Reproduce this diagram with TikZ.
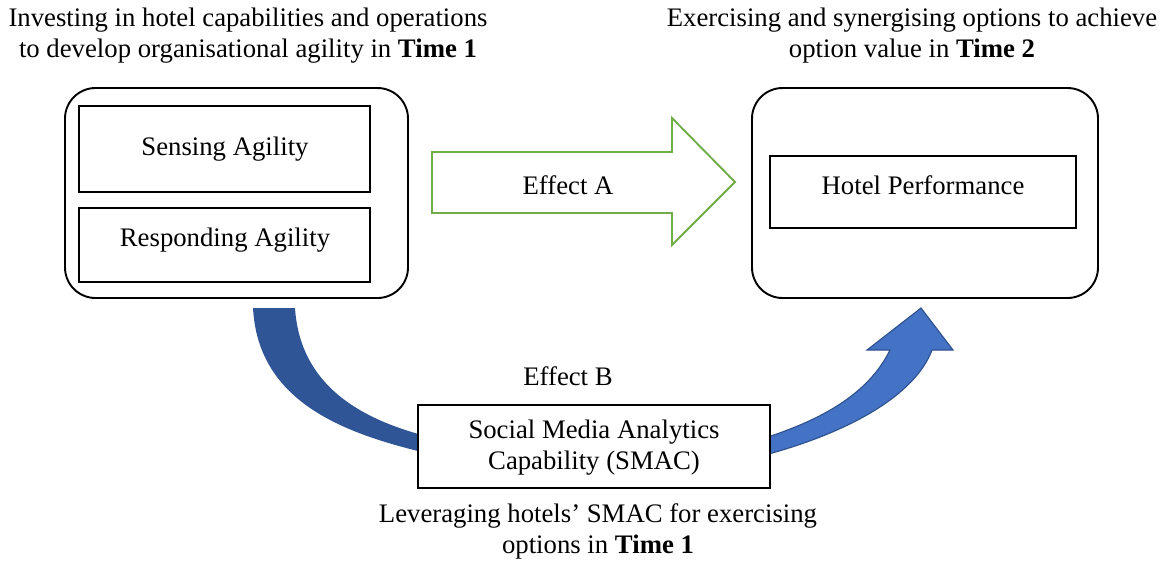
\documentclass[tikz,border=0pt]{standalone}
\usepackage{fontspec}
\setmainfont{Liberation Serif}
\begin{document}
\begin{tikzpicture}[x=0.0184cm,y=-0.0184cm,line join=miter,
  font=\fontsize{14}{16.2}\selectfont,
  outer/.style={draw,line width=1pt,rounded corners=16pt},
  inbox/.style={draw,line width=0.8pt,fill=white},
  caption/.style={align=center,inner sep=0pt}]
\definecolor{effgreen}{HTML}{70AD47}
\definecolor{darkarc}{HTML}{2F5597}
\definecolor{lightarc}{HTML}{4472C4}
\definecolor{arcline}{HTML}{2F528F}
\useasboundingbox (0,0) rectangle (1163,561);
% captions
\node[caption] (capL) at (248,36) {Investing in hotel capabilities and operations\\to develop organisational agility in \textbf{Time 1}};
\node[caption] (capR) at (912,36) {Exercising and synergising options to achieve\\option value in \textbf{Time 2}};
\node[caption] (capB) at (598,531) {Leveraging hotels’ SMAC for exercising\\options in \textbf{Time 1}};
% left group
\draw[outer] (65,88) rectangle (408,298);
\draw[inbox] (79,106) rectangle (370,192);
\node (sense) at (225,149) {Sensing Agility};
\draw[inbox] (79,208) rectangle (370,282);
\node (resp) at (225,240) {Responding Agility};
% right group
\draw[outer] (752,88) rectangle (1098,298);
\draw[inbox] (770,156) rectangle (1076,228);
\node (perf) at (923,185) {Hotel Performance};
% effect A
\draw[effgreen,line width=1pt] (432,152) -- (672,152) -- (672,118) -- (735,182)
  -- (672,245) -- (672,213) -- (432,213) -- cycle;
\node (effA) at (568,185) {Effect A};
% effect B arcs
\fill[darkarc] (253,308) .. controls (258,400) and (340,432) .. (422,452)
  -- (422,435) .. controls (360,418) and (300,385) .. (295,308) -- cycle;
\filldraw[fill=lightarc,draw=arcline,line width=0.6pt] (765,455) .. controls (850,432) and (915,395) .. (932,350)
  -- (953,350) -- (921,308) -- (867,350) -- (890,350)
  .. controls (868,395) and (820,420) .. (765,438) -- cycle;
\node (effB) at (568,376) {Effect B};
\draw[inbox] (418,405) rectangle (770,488);
\node[align=center] (smac) at (594,448) {Social Media Analytics\\Capability (SMAC)};
\end{tikzpicture}
\end{document}
